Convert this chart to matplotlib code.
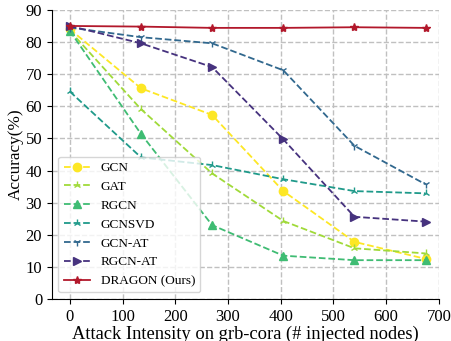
import matplotlib.pyplot as plt

plt.rcParams['font.family'] = ['Liberation Serif', 'DejaVu Serif']

# injected nodes
x = [0, 135, 270, 405, 540, 675]

gcn = [84.0, 65.6, 57.3, 33.6, 17.8, 12.5]
gat = [83.5, 59.1, 39.1, 24.3, 15.8, 14.2]
rgcn = [83.5, 51.4, 23.0, 13.5, 12.1, 12.1]
gcnsvd = [64.6, 44.1, 41.7, 37.3, 33.6, 32.9]
gcn_at = [84.5, 81.5, 79.6, 71.2, 47.7, 35.7]
rgcn_at = [85.0, 79.6, 72.2, 49.7, 25.6, 24.1]
dragon = [85.0, 84.8, 84.4, 84.4, 84.6, 84.4]

fig = plt.figure(figsize=(4.51, 3.41), dpi=100)
ax = fig.add_axes([0.115, 0.123, 0.858, 0.848])

ms = 6
ax.plot(x, gcn, '--', color='#fde725', marker='o', markersize=ms, lw=1.3, label='GCN')
ax.plot(x, gat, '--', color='#a0da39', marker='2', markersize=ms, lw=1.3, label='GAT')
ax.plot(x, rgcn, '--', color='#3fbc73', marker='^', markersize=ms, lw=1.3, label='RGCN')
ax.plot(x, gcnsvd, '--', color='#1f9a8a', marker='2', markersize=ms, lw=1.3, label='GCNSVD')
ax.plot(x, gcn_at, '--', color='#31688e', marker='1', markersize=ms, lw=1.3, label='GCN-AT')
ax.plot(x, rgcn_at, '--', color='#46327e', marker='>', markersize=ms, lw=1.3, label='RGCN-AT')
ax.plot(x, dragon, '-', color='#b2182b', marker='*', markersize=ms, lw=1.3, label='DRAGON (Ours)')

ax.set_xlim(-34, 700)
ax.set_ylim(0, 90)
ax.set_xticks([0, 100, 200, 300, 400, 500, 600, 700])
ax.set_yticks(range(0, 91, 10))
ax.tick_params(labelsize=12)
ax.set_xlabel('Attack Intensity on grb-cora (# injected nodes)', fontsize=13.3, labelpad=1)
ax.set_ylabel('Accuracy(%)', fontsize=12.3, labelpad=1)
ax.grid(True, linestyle='--', color='#c0c0c0', lw=1)
ax.spines['top'].set_visible(False)
ax.spines['right'].set_visible(False)
ax.legend(loc='lower left', fontsize=9.5, handlelength=2)

plt.savefig('out.png')
